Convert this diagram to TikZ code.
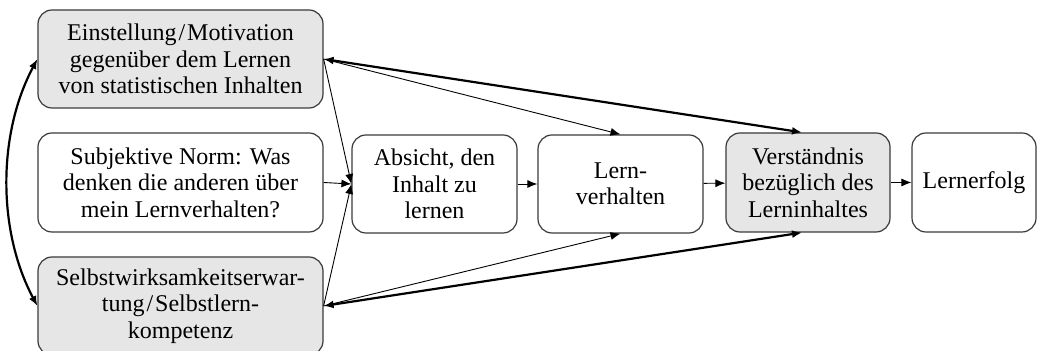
\documentclass[tikz,border=0pt]{standalone}
\usepackage{fontspec}
\setmainfont{Liberation Serif}
\usetikzlibrary{arrows.meta}
\definecolor{boxgray}{HTML}{E6E6E6}
\definecolor{edge}{HTML}{3A3A3A}
\tikzset{
  box/.style={draw=edge, line width=0.6pt, rounded corners=7pt, align=center,
    inner sep=0pt, font=\fontsize{12}{13.2}\selectfont},
  grayfill/.style={fill=boxgray},
  thin/.style={line width=0.45pt, -{Latex[length=5pt,width=4pt]}},
  thick2/.style={line width=1.1pt, {Latex[length=5pt,width=4pt]}-{Latex[length=5pt,width=4pt]}},
}
\begin{document}
\begin{tikzpicture}[x=0.5pt,y=-0.5pt]
\useasboundingbox (0,0) rectangle (1040,351);
\node[box,grayfill,minimum width=142.5pt,minimum height=49pt] (E) at (180.5,59)
  {Einstellung\kern1pt/\kern1ptMotivation\\gegenüber dem Lernen\\von statistischen Inhalten};
\node[box,minimum width=142.5pt,minimum height=49.5pt] (S) at (180.5,182.5)
  {Subjektive Norm: Was\\denken die anderen über\\mein Lernverhalten?};
\node[box,grayfill,minimum width=142.5pt,minimum height=49pt] (W) at (180.5,306)
  {Selbstwirksamkeitserwar-\\tung\kern1pt/\kern1ptSelbstlern-\\kompetenz};
\node[box,minimum width=82.5pt,minimum height=49pt] (A) at (434.5,184)
  {Absicht, den\\Inhalt zu\\lernen};
\node[box,minimum width=82.5pt,minimum height=49pt] (L) at (620.5,184)
  {Lern-\\verhalten};
\node[box,grayfill,minimum width=82pt,minimum height=49.5pt] (V) at (808,182.5)
  {Verständnis\\bezüglich des\\Lerninhaltes};
\node[box,minimum width=62pt,minimum height=49.5pt] (R) at (974,182.5)
  {Lernerfolg};
% left curved double arrow
\draw[thick2] (E.west) .. controls +(-40,75) and +(-40,-75) .. (W.west);
% thin arrows
\draw[thin] (E.east) -- (A.west);
\draw[thin] (E.east) -- (L.north);
\draw[thin] (S.east) -- (A.west);
\draw[thin] (W.east) -- (A.west);
\draw[thin] (W.east) -- (L.south);
% thick double arrows
\draw[thick2] (E.east) -- ([xshift=-3pt]V.north);
\draw[thick2] (W.east) -- ([xshift=-3pt]V.south);
% main chain
\draw[thin] (A) -- (L);
\draw[thin] (L) -- (V);
\draw[thin] (V) -- (R);
\end{tikzpicture}
\end{document}
